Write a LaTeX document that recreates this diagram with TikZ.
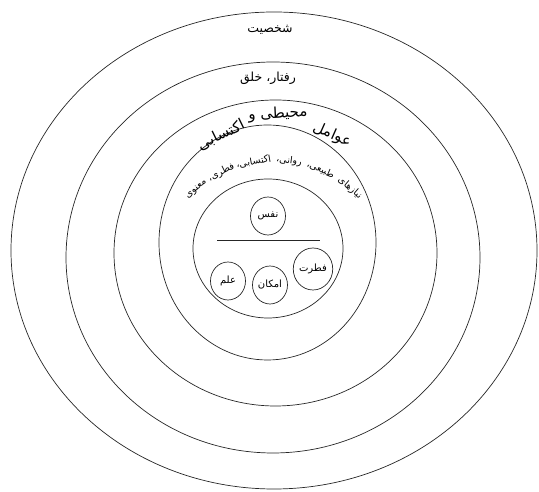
\documentclass[tikz,border=0pt]{standalone}
\usepackage{fontspec}
\usetikzlibrary{shapes.geometric}
\newfontfamily\farsi[Script=Arabic]{DejaVu Sans}
\TeXXeTstate=1
\newcommand{\fatext}[1]{\farsi\beginR #1\endR}

\begin{document}
\begin{tikzpicture}[
    x=1pt, y=1pt,
    ring/.style={line width=0.7pt, black!85},
    lbl/.style={font=\farsi\fontsize{12.5}{14}\selectfont, inner sep=0pt},
    biglbl/.style={font=\farsi\fontsize{15}{17}\selectfont, inner sep=0pt},
    need/.style={font=\farsi\fontsize{9.5}{11}\selectfont, inner sep=0pt},
    core/.style={draw, ellipse, line width=0.7pt, black!85,
                 minimum width=35pt, minimum height=38pt, inner sep=0pt,
                 text=black, font=\farsi\fontsize{10}{12}\selectfont},
  ]
    \useasboundingbox (0,0) rectangle (539,492);

    % ── Nested rings ─────────────────────────────────────────────────────
    \foreach \cx/\cy/\rx/\ry in {274/241.5/263/238.5, 273/234.5/207/195.5,
                                 275.5/239/161.5/153, 267.5/249.5/108.5/117.5,
                                 268/243.5/75/69.5}
      \draw[ring] (\cx,\cy) ellipse [x radius=\rx, y radius=\ry];

    % ── Ring labels ──────────────────────────────────────────────────────
    \node[lbl] (person)   at (270,462) {\fatext{شخصیت}};
    \node[lbl] (behavior) at (268,414) {\fatext{رفتار، خلق}};

    \node[biglbl, rotate=-24] (env1) at (332,357) {\fatext{عوامل}};
    \node[biglbl, rotate=3]   (env2) at (278,378) {\fatext{محیطی و}};
    \node[biglbl, rotate=26]  (env3) at (221,357) {\fatext{اکتسابی}};

    % ── Needs, bent along an arc ─────────────────────────────────────────
    \coordinate (needc) at (274,215);
    \foreach \w/\t [count=\i] in {نیازهای/40.5, طبیعی،/23.5, روانی،/7.4,
                                  اکتسابی،/-10, فطری،/-26.8, معنوی/-41.5}
      \node[need, rotate=-\t] (need\i) at ([shift={({90-\t}:117)}]needc)
        {\fatext{\w}};

    % ── Core: nafs above the line, three below ──────────────────────────
    \node[core] (nafs)   at (268,276) {\fatext{نفس}};
    \coordinate (lineL) at (217,252);
    \coordinate (lineR) at (320,252);
    \draw[ring] (lineL) -- (lineR);
    \node[core] (elm)    at (228,211) {\fatext{علم}};
    \node[core] (emkan)  at (270,207) {\fatext{امکان}};
    \node[core, minimum height=42pt] (fetrat) at (313,223) {\fatext{فطرت}};
  \end{tikzpicture}
\end{document}
